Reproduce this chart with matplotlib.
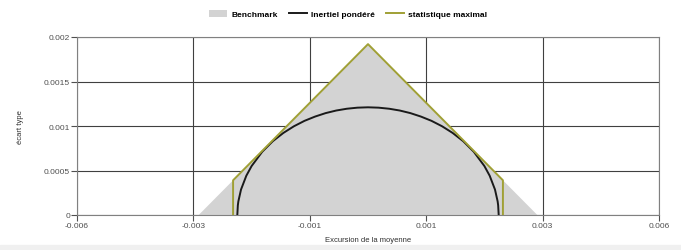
import matplotlib.pyplot as plt
from matplotlib.patches import Rectangle

plt.rcParams['font.family'] = ['Liberation Sans', 'DejaVu Sans']

# Benchmark (triangle)
bench_x = [-0.0032, 0.0, 0.0032]
bench_y = [0.0, 0.00192, 0.0]

# Inertiel pondéré
inert_x = [-0.00247, -0.00246, -0.00245, -0.0024, -0.0023, -0.0022, -0.002, -0.0018,
           -0.0016, -0.0014, -0.0012, -0.001, -0.0008, -0.0006, -0.0004, -0.0002, 0.0,
           0.0002, 0.0004, 0.0006, 0.0008, 0.001, 0.0012, 0.0014, 0.0016, 0.0018,
           0.002, 0.0022, 0.0023, 0.0024, 0.00245, 0.00246, 0.00247]
inert_y = [0.0, 0.000109, 0.000154, 0.000286, 0.000441, 0.00055, 0.00071, 0.000829,
           0.000922, 0.000997, 0.001058, 0.001106, 0.001145, 0.001174, 0.001194, 0.001206, 0.00121,
           0.001206, 0.001194, 0.001174, 0.001145, 0.001106, 0.001058, 0.000997, 0.000922, 0.000829,
           0.00071, 0.00055, 0.000441, 0.000286, 0.000154, 0.000109, 0.0]

# statistique maximal
stat_x = [-0.00255, -0.00255, 0.0, 0.00255, 0.00255]
stat_y = [0.0, 0.00039, 0.00192, 0.00039, 0.0]

xticks = [-0.0055, -0.0033, -0.0011, 0.0011, 0.0033, 0.0055]
xlabels = ['-0.006', '-0.003', '-0.001', '0.001', '0.003', '0.006']
yticks = [0, 0.0005, 0.001, 0.0015, 0.002]
ylabels = ['0', '0.0005', '0.001', '0.0015', '0.002']

fig = plt.figure(figsize=(6.81, 2.51), dpi=100)
fig.patches.append(Rectangle((0, 0), 1, 5 / 251, transform=fig.transFigure,
                             color='#f0f0f0', zorder=0))
ax = fig.add_axes([77 / 681, 35 / 251, 582 / 681, 178 / 251])

ax.fill(bench_x, bench_y, color='#d3d3d3', lw=0, label='Benchmark', zorder=2)
ax.plot(inert_x, inert_y, color='#1a1a1a', lw=1.4, label='Inertiel pondéré', zorder=3)
ax.plot(stat_x, stat_y, color='#a0a035', lw=1.4, label='statistique maximal', zorder=4)

ax.set_xlim(-0.0055, 0.0055)
ax.set_ylim(0, 0.002)
ax.set_xticks(xticks)
ax.set_xticklabels(xlabels)
ax.set_yticks(yticks)
ax.set_yticklabels(ylabels)
ax.grid(True, color='#404040', lw=0.8, zorder=1)
ax.tick_params(labelsize=6, colors='#505050', length=4, width=0.8, pad=1)
for s in ax.spines.values():
    s.set_color('#808080')
    s.set_linewidth(0.8)
ax.set_axisbelow(True)

ax.set_xlabel('Excursion de la moyenne', fontsize=5.5, color='#303030', labelpad=5)
ax.set_ylabel('écart type', fontsize=5.5, color='#303030', labelpad=14)

fig.legend(loc='center', bbox_to_anchor=(348 / 681, 1 - 15 / 251), ncol=3, frameon=False,
           prop={'size': 6, 'weight': 'bold'}, handlelength=2.2, handleheight=0.9,
           columnspacing=1.3, handletextpad=0.5)

fig.savefig('out.png', dpi=100)
